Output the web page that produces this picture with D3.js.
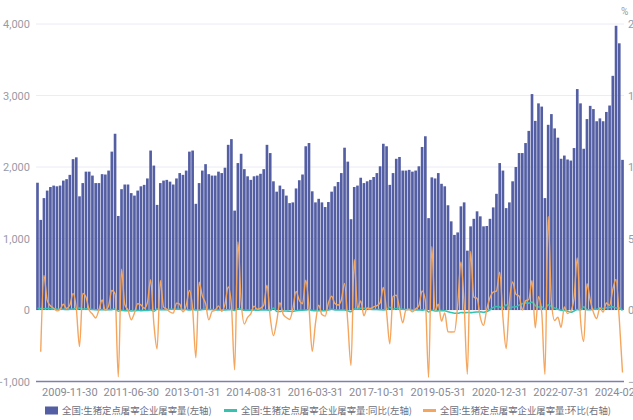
<!DOCTYPE html>
<html>
<head>
<meta charset="utf-8">
<script src="https://cdn.jsdelivr.net/npm/d3@7"></script>
<style>
  body { margin: 0; background: #fff; }
  svg { display: block; font-family: "Noto Sans CJK SC", "DejaVu Sans", sans-serif; }
</style>
</head>
<body>
<svg id="chart" width="633" height="420"></svg>
<script>
// monthly categories, 2009-01 .. 2024-02 (month end labels)
const startMonth = new Date(2009, 0, 1);
const endMonth = new Date(2024, 2, 1);
const fmt = d3.timeFormat('%Y-%m-%d');
const categories = d3.timeMonth.range(startMonth, endMonth)
  .map(d => fmt(d3.timeDay.offset(d3.timeMonth.offset(d, 1), -1)));

// 屠宰量 (left axis)
const slaughter = [
  1780, 1260, 1565, 1670, 1720, 1740, 1730, 1740, 1810, 1830, 1890, 2110,
  2135, 1590, 1775, 1935, 1935, 1880, 1775, 1775, 1900, 1895, 1950, 2215,
  2465, 1315, 1690, 1755, 1755, 1635, 1600, 1670, 1730, 1750, 1840, 2230,
  2020, 1470, 1775, 1810, 1820, 1795, 1755, 1840, 1915, 1890, 1950, 2215,
  2230, 1485, 1775, 1950, 2040, 1900, 1880, 1880, 1935, 1915, 1990, 2310,
  2390, 1390, 2055, 2185, 1970, 1870, 1820, 1870, 1880, 1905, 1970, 2310,
  2195, 1800, 1655, 1740, 1690, 1600, 1495, 1505, 1700, 1815, 1895, 2290,
  2335, 1660, 1505, 1555, 1505, 1440, 1510, 1655, 1730, 1790, 1915, 2270,
  2075, 1270, 1720, 1740, 1850, 1775, 1800, 1820, 1860, 1915, 2010, 2325,
  2290, 1750, 1915, 2115, 2140, 1950, 1950, 1960, 1935, 1950, 2010, 2280,
  2430, 1285, 1855, 1840, 1915, 1765, 1730, 1465, 1240, 1050, 1085, 1450,
  1505, 830, 1170, 1275, 1380, 1310, 1170, 1175, 1275, 1435, 1625, 2055,
  1950, 1425, 1505, 1800, 2000, 2195, 2195, 2335, 2505, 3020, 2645, 2890,
  2845, 1565, 2590, 2740, 2540, 2410, 2115, 2160, 2105, 2090, 2265, 3090,
  2890, 2255, 2670, 2855, 2810, 2640, 2680, 2640, 2770, 2860, 3275, 3975,
  3730, 2100
];

// 同比 % (left axis)
const yoy = [
  25, 20, 18, 20, 18, 15, 12, 10, 10, 8, 10, 12,
  20, 26, 13, 16, 12, 8, 3, 2, 5, 4, 3, 5,
  15, -17, -5, -9, -9, -13, -10, -6, -9, -8, -6, 1,
  -18, 12, 5, 3, 4, 10, 10, 10, 11, 8, 6, -1,
  10, 1, 0, 8, 12, 6, 7, 2, 1, 1, 2, 4,
  7, -6, 16, 12, -3, -2, -3, -1, -3, -1, -1, 0,
  -8, 29, -19, -20, -14, -14, -18, -20, -10, -5, -4, -1,
  6, -8, -9, -11, -11, -10, 1, 10, 2, -1, 1, -1,
  -11, -23, 14, 12, 23, 23, 19, 10, 8, 7, 5, 2,
  10, 38, 11, 22, 16, 10, 8, 8, 4, 2, 0, -2,
  6, -27, -3, -13, -11, -9, -11, -25, -36, -46, -46, -36,
  -38, -35, -37, -31, -28, -26, -32, -20, 3, 37, 50, 42,
  30, 72, 29, 41, 45, 68, 88, 99, 96, 110, 63, 41,
  46, 10, 72, 52, 27, 10, -4, -7, -16, -31, -14, 7,
  2, 44, 3, 4, 11, 10, 27, 22, 32, 37, 45, 29,
  29, -7
];

// 环比 % (right axis)
const mom = [
  null, -29.2, 24.2, 6.7, 3.0, 1.2, -0.6, 0.6, 4.0, 1.1, 3.3, 11.6,
  1.2, -25.5, 11.6, 9.0, 0.0, -2.8, -5.6, 0.0, 7.0, -0.3, 2.9, 13.6,
  11.3, -46.7, 28.5, 3.8, 0.0, -6.8, -2.1, 4.4, 3.6, 1.2, 5.1, 21.2,
  -9.4, -27.2, 20.7, 2.0, 0.6, -1.4, -2.2, 4.8, 4.1, -1.3, 3.2, 13.6,
  0.7, -33.4, 19.5, 9.9, 4.6, -6.9, -1.1, 0.0, 2.9, -1.0, 3.9, 16.1,
  3.5, -41.8, 47.8, 6.3, -9.8, -5.1, -2.7, 2.7, 0.5, 1.3, 3.4, 17.3,
  -5.0, -18.0, -8.1, 5.1, -2.9, -5.3, -6.6, 0.7, 13.0, 6.8, 4.4, 20.8,
  2.0, -28.9, -9.3, 3.3, -3.2, -4.3, 4.9, 9.6, 4.5, 3.5, 7.0, 18.5,
  -8.6, -38.8, 35.4, 1.2, 6.3, -4.1, 1.4, 1.1, 2.2, 3.0, 5.0, 15.7,
  -1.5, -23.6, 9.4, 10.4, 1.2, -8.9, 0.0, 0.5, -1.3, 0.8, 3.1, 13.4,
  6.6, -47.1, 44.4, -0.8, 4.1, -7.8, -2.0, -15.3, -15.4, -15.3, 3.3, 33.6,
  3.8, -44.9, 41.0, 9.0, 8.2, -5.1, -10.7, 0.4, 8.5, 12.5, 13.2, 26.5,
  -5.1, -26.9, 5.6, 19.6, 11.1, 9.8, 0.0, 6.4, 7.3, 20.6, -12.4, 9.3,
  -1.6, -45.0, 65.5, 5.8, -7.3, -5.1, -12.2, 2.1, -2.5, -0.7, 8.4, 36.4,
  -6.5, -22.0, 18.4, 6.9, -1.6, -6.0, 1.5, -1.5, 4.9, 3.2, 14.5, 21.4,
  -6.2, -43.7
];

const leftTicks = [-1000, 0, 1000, 2000, 3000, 4000];
const rightTicks = [-50, 0, 50, 100, 150, 200];
const xTickEvery = 19;
const xTickStart = 10;
const legendNames = [
  '全国:生猪定点屠宰企业屠宰量(左轴)',
  '全国:生猪定点屠宰企业屠宰量:同比(左轴)',
  '全国:生猪定点屠宰企业屠宰量:环比(右轴)'
];

const barColor = '#535ea3';
const yoyColor = '#36c2b0';
const momColor = '#f4a65e';

const svg = d3.select('#chart');
const plotLeft = 36, plotRight = 624, plotTop = 24, plotBottom = 381.5;

const x = d3.scaleBand().domain(categories).range([plotLeft, plotRight]).paddingInner(0.18).paddingOuter(0.05);
const y = d3.scaleLinear().domain([-1000, 4000]).range([plotBottom, plotTop]);
const yR = d3.scaleLinear().domain([-50, 200]).range([plotBottom, plotTop]);

// grid
svg.append('g')
  .selectAll('line')
  .data(leftTicks.filter(t => t > -1000))
  .join('line')
  .attr('x1', plotLeft).attr('x2', plotRight)
  .attr('y1', d => y(d)).attr('y2', d => y(d))
  .attr('stroke', '#ececf4').attr('stroke-width', 1);

// left axis
const gl = svg.append('g')
  .attr('transform', `translate(${plotLeft - 3},0)`)
  .call(d3.axisLeft(y).tickValues(leftTicks).tickFormat(d3.format(',')).tickSize(0));
gl.select('.domain').remove();
gl.selectAll('text').attr('fill', '#9a9aa6').style('font-size', '11px')
  .style('font-family', 'Roboto, "DejaVu Sans", sans-serif');

// right axis (clipped by page edge, as in the original)
const gr = svg.append('g')
  .attr('transform', `translate(${plotRight + 1},0)`)
  .call(d3.axisRight(yR).tickValues(rightTicks).tickSize(0));
gr.select('.domain').remove();
gr.selectAll('text').attr('fill', '#9a9aa6').style('font-size', '11px')
  .style('font-family', 'Roboto, "DejaVu Sans", sans-serif');

svg.append('text')
  .attr('x', 621).attr('y', 15)
  .attr('fill', '#9a9aa6').style('font-size', '10px')
  .style('font-family', 'Roboto, "DejaVu Sans", sans-serif')
  .text('%');

// bars
svg.append('g')
  .selectAll('rect')
  .data(slaughter)
  .join('rect')
  .attr('x', (d, i) => x(categories[i]))
  .attr('width', x.bandwidth())
  .attr('y', d => y(Math.max(d, 0)))
  .attr('height', d => Math.abs(y(d) - y(0)))
  .attr('fill', barColor);

// x axis
const gx = svg.append('g')
  .attr('transform', `translate(0,${plotBottom})`)
  .call(d3.axisBottom(x)
    .tickValues(categories.filter((c, i) => i >= xTickStart && (i - xTickStart) % xTickEvery === 0))
    .tickSize(0).tickPadding(7));
gx.select('.domain').attr('stroke', '#7c80b0').attr('stroke-width', 1.6)
  .attr('d', `M${plotLeft},0H${plotRight}`);
gx.selectAll('text').attr('fill', '#8a8a96').style('font-size', '11px')
  .style('font-family', 'Roboto, "DejaVu Sans", sans-serif');

// lines
const xc = i => x(categories[i]) + x.bandwidth() / 2;

const yoyLine = d3.line()
  .x((d, i) => xc(i))
  .y(d => y(d))
  .curve(d3.curveMonotoneX);
svg.append('path')
  .datum(yoy)
  .attr('d', yoyLine)
  .attr('fill', 'none')
  .attr('stroke', yoyColor)
  .attr('stroke-width', 1.6);

const momLine = d3.line()
  .defined(d => d !== null)
  .x((d, i) => xc(i))
  .y(d => yR(d))
  .curve(d3.curveMonotoneX);
svg.append('path')
  .datum(mom)
  .attr('d', momLine)
  .attr('fill', 'none')
  .attr('stroke', momColor)
  .attr('stroke-width', 1.4);

// legend
const legendX = [45, 224, 423];
const lg = svg.append('g').style('font-size', '9.4px');
legendNames.forEach((name, k) => {
  const g = lg.append('g').attr('transform', `translate(${legendX[k]},410.5)`);
  if (k === 0) {
    g.append('rect').attr('x', 0).attr('y', -4).attr('width', 13).attr('height', 8).attr('fill', barColor);
  } else {
    g.append('line').attr('x1', 0).attr('x2', 13).attr('y1', 0).attr('y2', 0)
      .attr('stroke', k === 1 ? yoyColor : momColor).attr('stroke-width', 3);
  }
  g.append('text').attr('x', 17).attr('y', 3.3).attr('fill', '#6e6e7a').text(name);
});
</script>
</body>
</html>
